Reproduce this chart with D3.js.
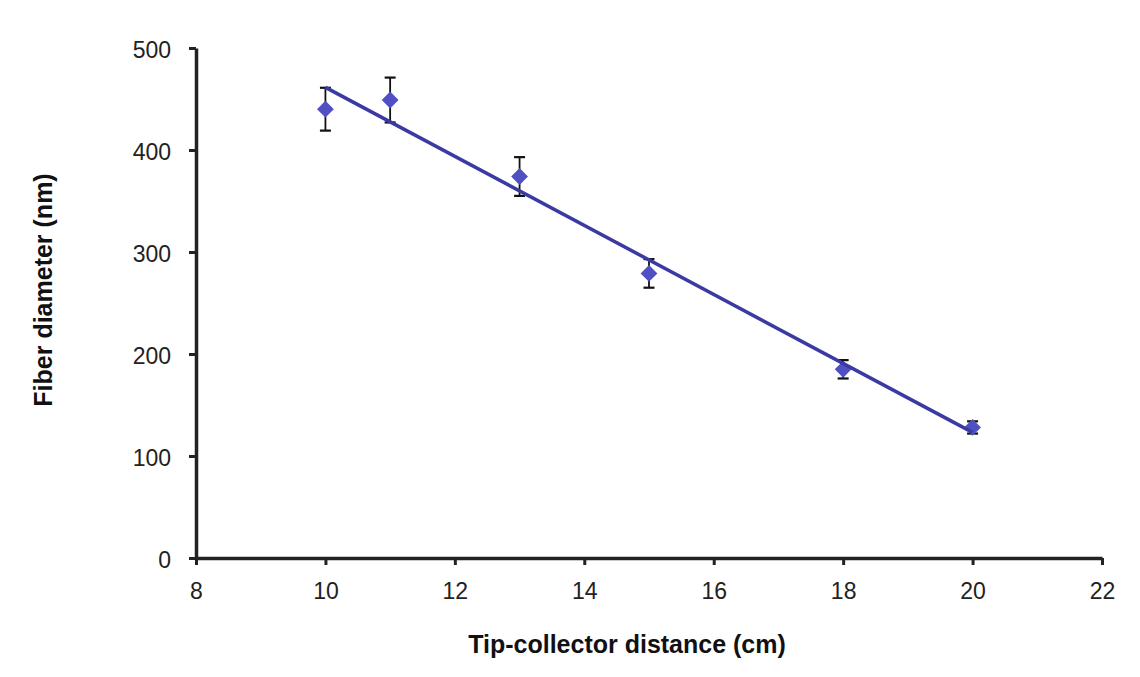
<!DOCTYPE html>
<html>
<head>
<meta charset="utf-8">
<script src="https://cdn.jsdelivr.net/npm/d3@7"></script>
<style>
  body { margin: 0; background: #fff; }
  svg { display: block; font-family: "Liberation Sans", Arial, sans-serif; }
</style>
</head>
<body>
<div id="chart"></div>
<script>
// tip-collector distance (cm) vs fiber diameter (nm)
var distances = [10, 11, 13, 15, 18, 20];
var diameters = [440, 449, 374, 279, 185, 128];
var errors = [21, 22, 19, 14, 9, 6];
var xTicks = [8, 10, 12, 14, 16, 18, 20, 22];
var yTicks = [0, 100, 200, 300, 400, 500];

var width = 1140, height = 677;
var margin = { top: 48, right: 38, bottom: 119, left: 196 };

var svg = d3.select('#chart').append('svg')
    .attr('width', width)
    .attr('height', height);

var x = d3.scaleLinear().domain([8, 22]).range([margin.left, width - margin.right]);
var y = d3.scaleLinear().domain([0, 500]).range([height - margin.bottom, margin.top]);

var points = distances.map(function(d, i) {
    return { x: d, y: diameters[i], err: errors[i] };
});

// least squares trendline, like the spreadsheet one
var mx = d3.mean(distances), my = d3.mean(diameters);
var sxy = d3.sum(distances, function(d, i) { return (d - mx) * (diameters[i] - my); });
var sxx = d3.sum(distances, function(d) { return (d - mx) * (d - mx); });
var slope = sxy / sxx, intercept = my - slope * mx;
var trend = d3.extent(distances).map(function(d) { return [d, intercept + slope * d]; });

// axes
var xAxis = svg.append('g')
    .attr('transform', 'translate(0,' + y(0) + ')')
    .call(d3.axisBottom(x).tickValues(xTicks).tickSize(7).tickSizeOuter(0).tickPadding(18));
var yAxis = svg.append('g')
    .attr('transform', 'translate(' + x(8) + ',0)')
    .call(d3.axisLeft(y).tickValues(yTicks).tickSize(7).tickSizeOuter(0).tickPadding(18));

[xAxis, yAxis].forEach(function(ax) {
    ax.select('.domain').attr('stroke', '#222').attr('stroke-width', 3.5);
    ax.selectAll('.tick line').attr('stroke', '#222').attr('stroke-width', 3);
    ax.selectAll('.tick text').attr('fill', '#222').style('font-size', '23px');
});
yAxis.selectAll('.tick text').attr('dy', '0.4em');

// error bars
var eb = svg.append('g').selectAll('g').data(points).enter().append('g');
eb.append('line')
    .attr('x1', function(d) { return x(d.x); })
    .attr('x2', function(d) { return x(d.x); })
    .attr('y1', function(d) { return y(d.y + d.err); })
    .attr('y2', function(d) { return y(d.y - d.err); })
    .attr('stroke', '#111').attr('stroke-width', 1.8);
eb.selectAll('.cap').data(function(d) { return [[d.x, d.y + d.err], [d.x, d.y - d.err]]; })
    .enter().append('line')
    .attr('x1', function(d) { return x(d[0]) - 5.5; })
    .attr('x2', function(d) { return x(d[0]) + 5.5; })
    .attr('y1', function(d) { return y(d[1]); })
    .attr('y2', function(d) { return y(d[1]); })
    .attr('stroke', '#111').attr('stroke-width', 2.2);

// markers
svg.append('g').selectAll('path').data(points).enter().append('path')
    .attr('d', d3.symbol().type(d3.symbolDiamond2).size(180))
    .attr('transform', function(d) { return 'translate(' + x(d.x) + ',' + y(d.y) + ')'; })
    .attr('fill', '#5050c4');

// trendline
svg.append('path')
    .datum(trend)
    .attr('d', d3.line().x(function(d) { return x(d[0]); }).y(function(d) { return y(d[1]); }))
    .attr('stroke', '#3a3aa2').attr('stroke-width', 3.5).attr('fill', 'none');

// axis titles
svg.append('text')
    .attr('x', 627)
    .attr('y', 653)
    .attr('text-anchor', 'middle')
    .style('font-size', '25px').style('font-weight', 'bold').attr('fill', '#111')
    .text('Tip-collector distance (cm)');
svg.append('text')
    .attr('transform', 'translate(52,' + ((y(0) + y(500)) / 2 - 13) + ') rotate(-90)')
    .attr('text-anchor', 'middle')
    .style('font-size', '25px').style('font-weight', 'bold').attr('fill', '#111')
    .text('Fiber diameter (nm)');
</script>
</body>
</html>
